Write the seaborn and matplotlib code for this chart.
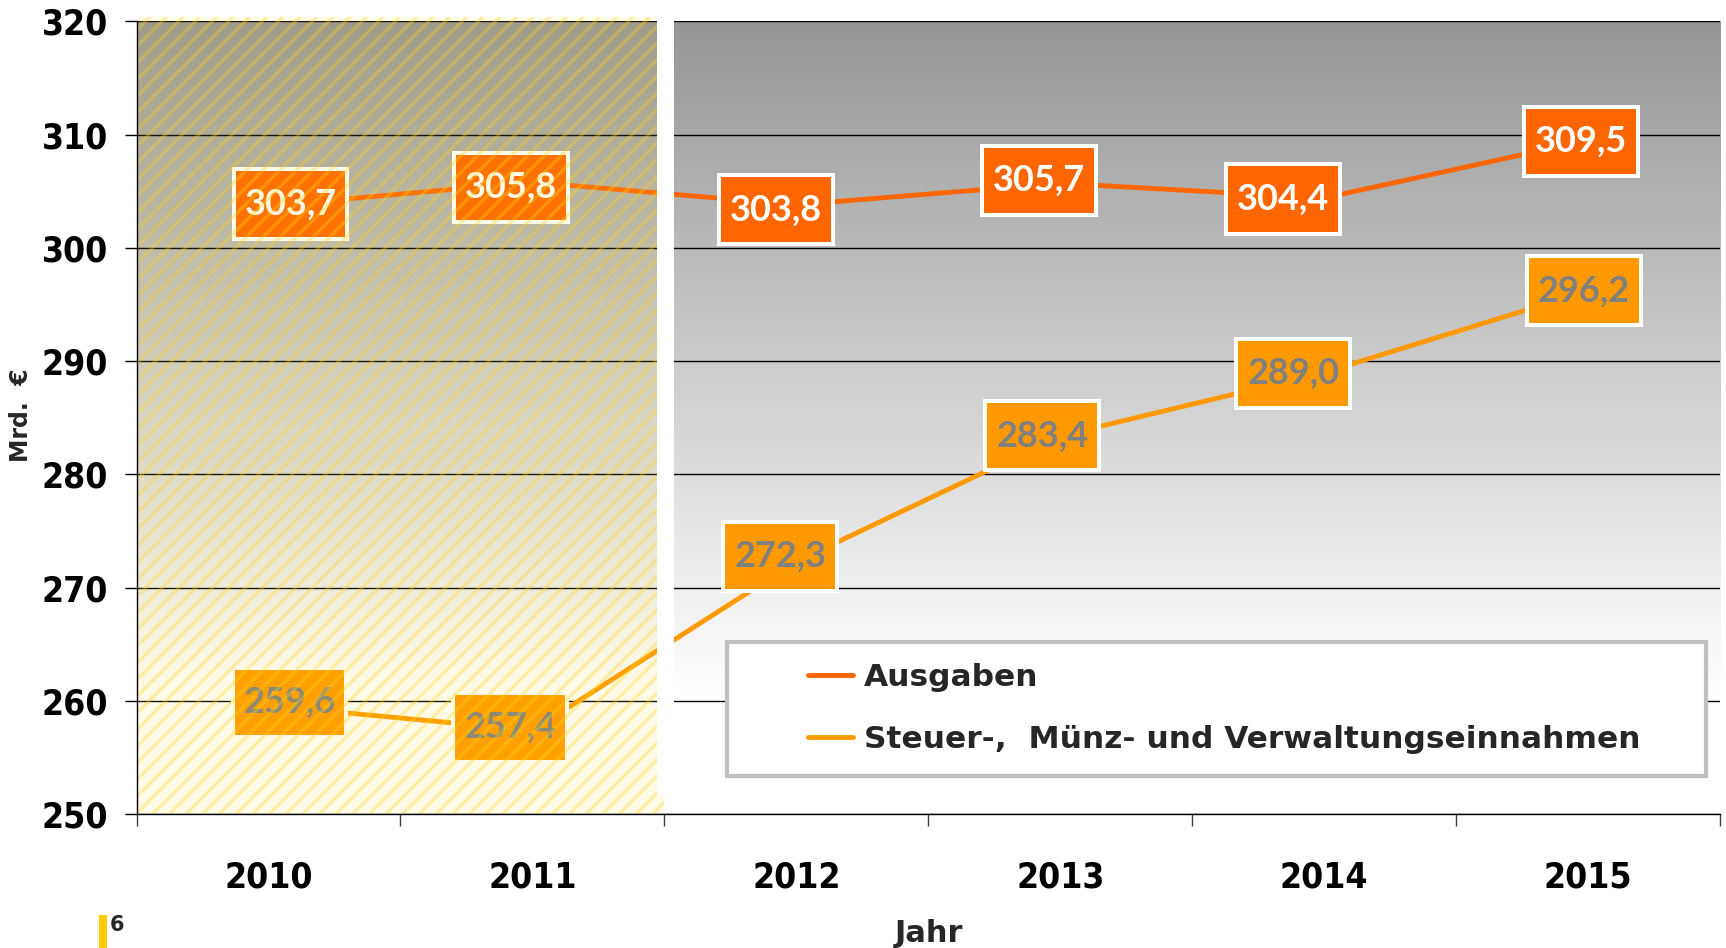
import numpy as np
import pandas as pd
import matplotlib
matplotlib.use("Agg")
import matplotlib.pyplot as plt
import seaborn as sns
from matplotlib.patches import Rectangle
from matplotlib.path import Path
from matplotlib.font_manager import FontProperties

# ---- data ----
years = [2010, 2011, 2012, 2013, 2014, 2015]
ausgaben = [303.7, 305.8, 303.8, 305.7, 304.4, 309.5]
einnahmen = [259.6, 257.4, 272.3, 283.4, 289.0, 296.2]
series_names = ["Ausgaben", "Steuer-,  Münz- und Verwaltungseinnahmen"]
y_label = "Mrd.  €"
x_label = "Jahr"
page_no = "6"

# ---- styles ----
series_colors = ["#ff6600", "#ff9900"]
label_text_colors = ["white", "#808080"]
# manual label nudges (pixels) as in the original chart
label_dx = [[22, -21, -20, -21, -41, -7], [21, -22, -16, -18, -31, -4]]
label_dy = [[2, -5, -5, 3, -1, -1], [3, 3, 5, 0, -1, 0]]

sns.set_theme(style="white")
plt.rcParams["font.family"] = ["DejaVu Sans"]
plt.rcParams["hatch.linewidth"] = 2.4

tick_font = FontProperties(family="DejaVu Sans", weight="bold", stretch="condensed", size=25.5)

fig = plt.figure(figsize=(17.26, 9.48), dpi=100)
ax = fig.add_axes([0.07909, 0.14103, 0.91744, 0.83650])

# background gradient
ys = np.linspace(320, 250, 400)
g = 0.588 + (1 - 0.588) * np.clip((320 - ys) / (320 - 261), 0, 1)
grad = np.repeat(g[:, None, None], 3, axis=2)
ax.imshow(grad, extent=[2009.5, 2015.5, 250, 320], aspect="auto",
          origin="upper", zorder=0, interpolation="bilinear")

df = pd.DataFrame({
    "Jahr": years * 2,
    "Wert": ausgaben + einnahmen,
    "Reihe": [series_names[0]] * len(years) + [series_names[1]] * len(years),
})
sns.lineplot(data=df, x="Jahr", y="Wert", hue="Reihe",
             palette=dict(zip(series_names, series_colors)),
             linewidth=3.5, ax=ax, zorder=2)


def tall_box(x0, y0, width, height, mutation_size):
    px = 0.30 * mutation_size
    py = 0.50 * mutation_size
    verts = [(x0 - px, y0 - py), (x0 + width + px, y0 - py),
             (x0 + width + px, y0 + height + py), (x0 - px, y0 + height + py),
             (x0 - px, y0 - py)]
    return Path(verts, closed=True)


# value labels
for vals, col, tcol, dxs, dys in zip([ausgaben, einnahmen], series_colors,
                                     label_text_colors, label_dx, label_dy):
    for x, v, dx, dy in zip(years, vals, dxs, dys):
        ax.annotate(f"{v:.1f}".replace(".", ","), xy=(x, v), xytext=(dx, dy),
                    textcoords="offset pixels", ha="center", va="center",
                    fontsize=26, fontweight="bold", family=["Lato", "DejaVu Sans"],
                    color=tcol, zorder=3,
                    bbox=dict(boxstyle=tall_box, fc=col, ec="white", lw=2.9))

# hatched overlay (2010-2011) and white gap
ax.add_patch(Rectangle((2009.5, 250), 2.0, 70.4, facecolor=(1.0, 0.85, 0.1, 0.10),
                       edgecolor="none", lw=0, zorder=4, clip_on=False))
ax.add_patch(Rectangle((2009.5, 250), 2.0, 70.4, facecolor="none",
                       edgecolor=(1.0, 0.84, 0.1, 0.33), hatch="//", lw=0,
                       zorder=4, clip_on=False))
ax.add_patch(Rectangle((2011.472, 251.6), 0.065, 68.9, facecolor="white",
                       edgecolor="none", zorder=5, clip_on=False))

ax.set_xlim(2009.5, 2015.5)
ax.set_ylim(250, 320)
ax.set_yticks(np.arange(250, 321, 10))
ax.set_xticks(years)
ax.set_xticklabels([str(y) for y in years])
ax.set_xticks(np.arange(2009.5, 2016, 1), minor=True)
ax.grid(axis="y", color="black", linewidth=1.0)
ax.grid(axis="x", visible=False)
ax.set_axisbelow(True)
ax.set_xlabel("")
ax.set_ylabel("")

ax.tick_params(axis="x", which="major", length=0, pad=33)
ax.tick_params(axis="x", which="minor", bottom=True, length=8.6, width=1,
               color="#404040", direction="out")
ax.tick_params(axis="y", left=True, length=8.6, width=1, color="black",
               direction="out", pad=12)
for lab in ax.get_xticklabels() + ax.get_yticklabels():
    lab.set_fontproperties(tick_font)
    lab.set_color("black")

for s in ["top", "right"]:
    ax.spines[s].set_visible(False)
for s in ["left", "bottom"]:
    ax.spines[s].set_color("black")
    ax.spines[s].set_linewidth(1.0)
    ax.spines[s].set_zorder(6)

# legend
handles, labels = ax.get_legend_handles_labels()
ax.add_patch(Rectangle((0.3729, 0.0483), 0.6183, 0.169, transform=ax.transAxes,
                       facecolor="white", edgecolor="#bfbfbf", lw=3, zorder=5.5))
leg = ax.legend(handles, labels, loc="center left", bbox_to_anchor=(0.4140, 0.1330),
                frameon=False, borderpad=0, handlelength=1.45, handletextpad=0.35,
                labelspacing=1.05,
                prop=FontProperties(family="DejaVu Sans", weight="bold", size=22.5))
leg.set_zorder(6)
for line in leg.get_lines():
    line.set_linewidth(3.5)

fig.text(21 / 1726, 1 - 415 / 948, y_label, rotation=90, ha="center", va="center",
         fontsize=17, fontweight="bold")
fig.text(929 / 1726, 1 - 933 / 948, x_label, ha="center", va="center",
         fontsize=22, fontweight="bold")
fig.patches.append(Rectangle((99 / 1726, 0), 8 / 1726, 33 / 948, transform=fig.transFigure,
                             facecolor="#ffcc00", edgecolor="none"))
fig.text(110 / 1726, 1 - 925 / 948, page_no, ha="left", va="center",
         fontsize=15, fontweight="bold")

fig.savefig("out.png", dpi=100)
